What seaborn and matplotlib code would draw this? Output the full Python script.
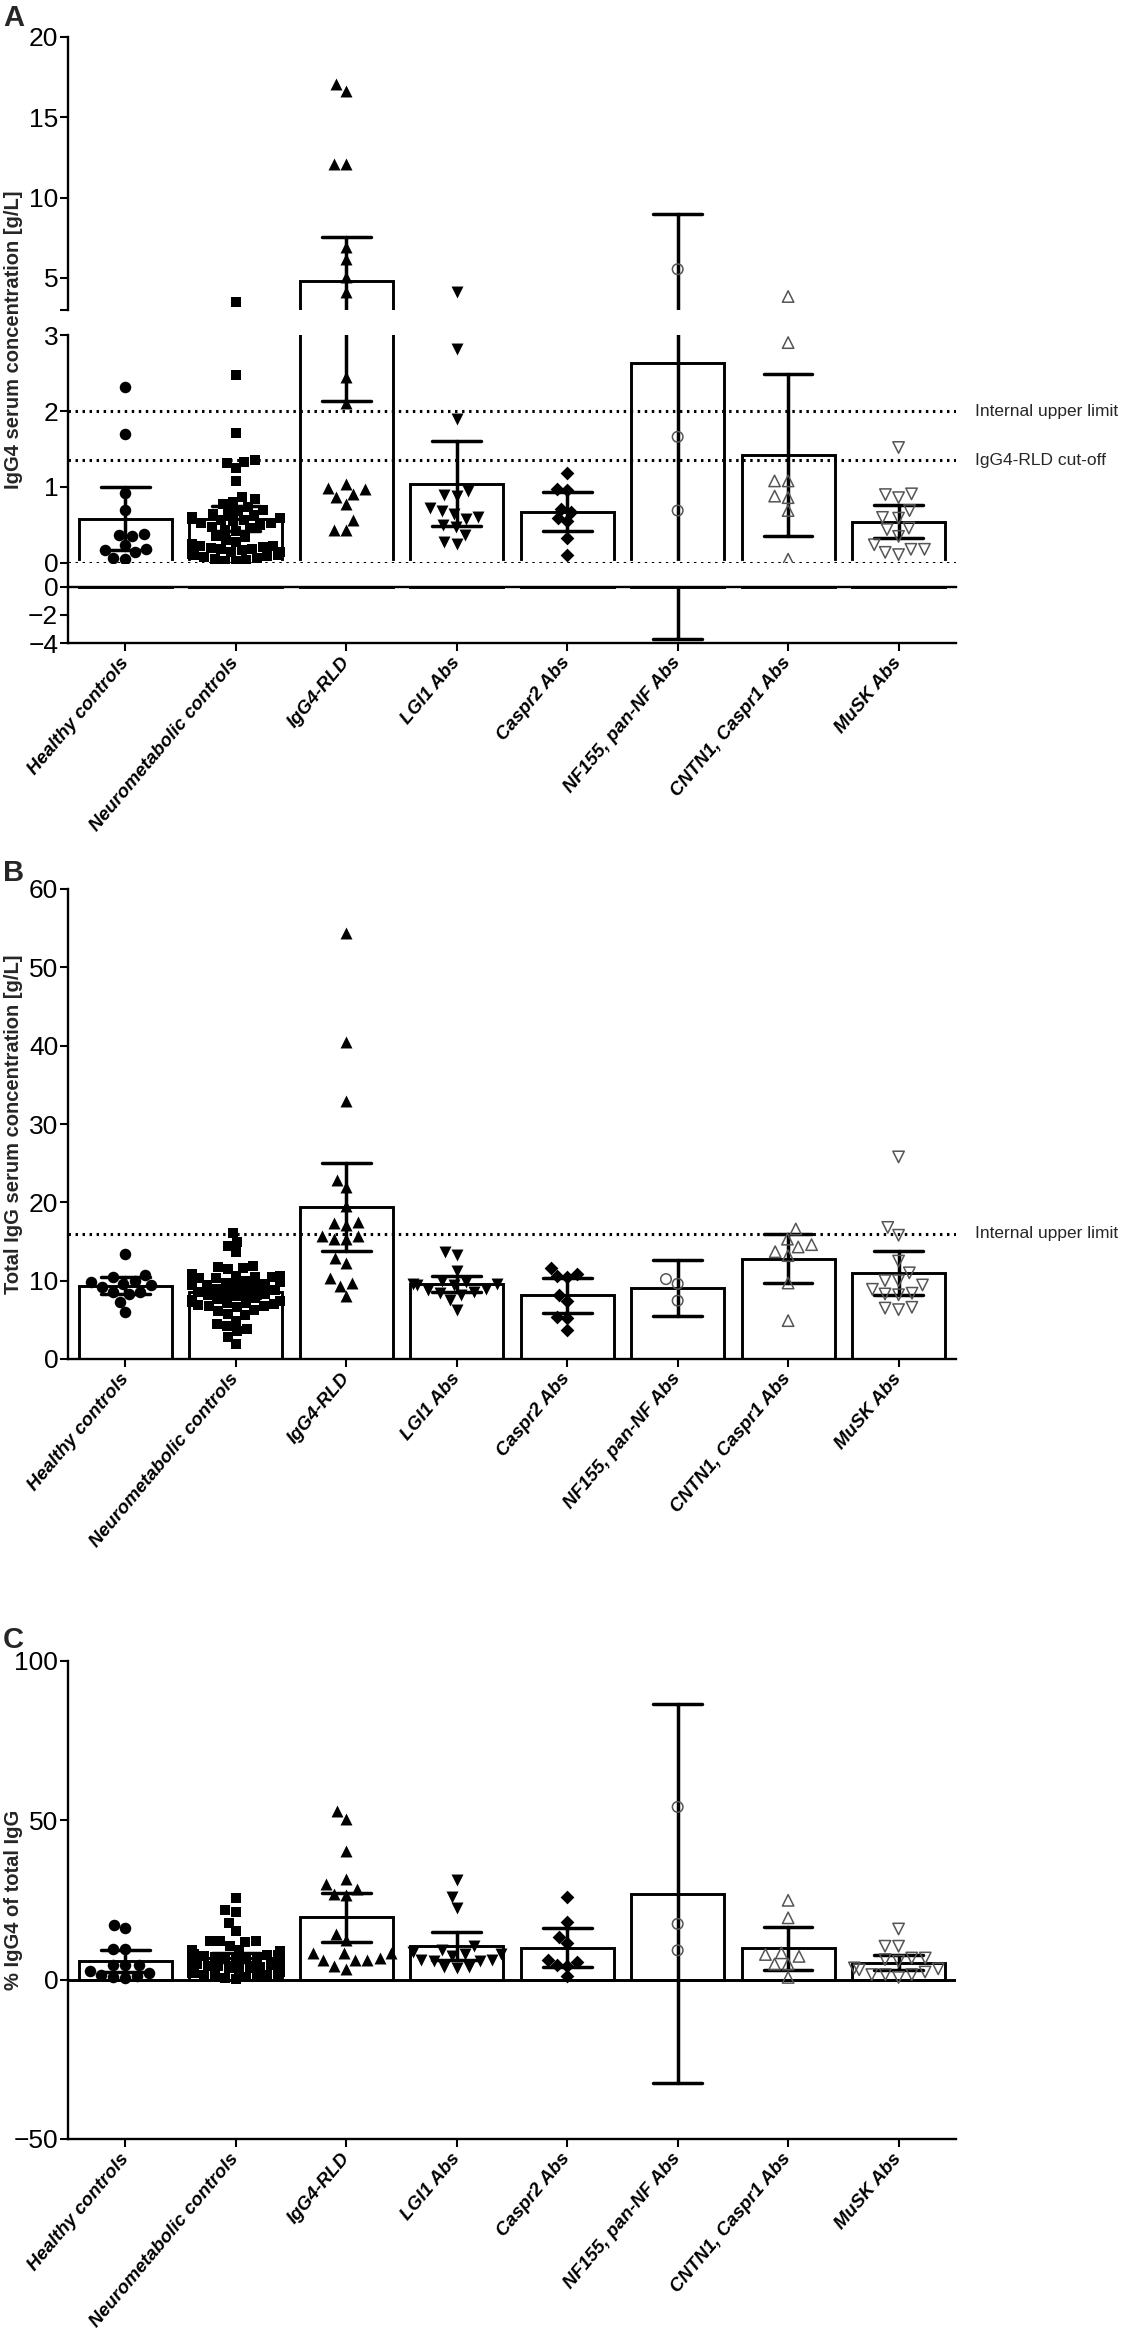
import numpy as np
import pandas as pd
import matplotlib
matplotlib.use("Agg")
import matplotlib.pyplot as plt
import matplotlib.transforms as mtrans
import seaborn as sns
import warnings
warnings.filterwarnings("ignore")

categories = ["Healthy controls", "Neurometabolic controls", "IgG4-RLD", "LGI1 Abs",
              "Caspr2 Abs", "NF155, pan-NF Abs", "CNTN1, Caspr1 Abs", "MuSK Abs"]

# ---------------- Panel A: IgG4 serum concentration [g/L]
a_healthy = [2.31, 1.70, 0.92, 0.70, 0.38, 0.37, 0.36, 0.24, 0.18, 0.17, 0.15, 0.06, 0.05]
a_neuro = [3.5, 2.47, 1.71, 1.36, 1.33, 1.32, 1.25, 1.08, 0.87, 0.84, 0.80, 0.78, 0.74, 0.70,
           0.68, 0.66, 0.65, 0.63, 0.60, 0.59, 0.58, 0.57, 0.56, 0.55, 0.53, 0.52, 0.50, 0.48,
           0.46, 0.44, 0.42, 0.36, 0.34, 0.30, 0.28, 0.25, 0.23, 0.22, 0.21, 0.20, 0.19, 0.18,
           0.17, 0.15, 0.14, 0.12, 0.11, 0.10, 0.09, 0.08, 0.06, 0.05, 0.04, 0.03, 0.02]
a_igg4rld = [17.06, 16.64, 12.08, 12.08, 6.95, 6.18, 5.08, 4.10, 2.45, 2.10, 1.04, 0.99, 0.98,
             0.91, 0.87, 0.78, 0.57, 0.44, 0.44]
a_lgi1 = [4.15, 2.82, 1.90, 0.95, 0.90, 0.88, 0.72, 0.68, 0.65, 0.60, 0.58, 0.50, 0.48, 0.37,
          0.27, 0.25]
a_caspr2 = [1.18, 0.97, 0.96, 0.71, 0.67, 0.59, 0.55, 0.33, 0.10]
a_nf155 = [5.54, 1.66, 0.69]
a_cntn1 = [3.84, 2.90, 1.08, 1.08, 0.88, 0.86, 0.69, 0.05]
a_musk = [1.52, 0.91, 0.90, 0.86, 0.69, 0.60, 0.59, 0.46, 0.44, 0.35, 0.24, 0.18, 0.18, 0.14, 0.11]

# ---------------- Panel B: Total IgG serum concentration [g/L]
b_healthy = [13.4, 10.7, 10.5, 10.0, 9.8, 9.6, 9.4, 9.2, 8.6, 8.5, 8.3, 7.3, 6.0]
b_neuro = [16.1, 14.9, 14.4, 13.6, 11.9, 11.7, 11.6, 11.5, 10.8, 10.6, 10.6, 10.5, 10.5, 10.4,
           10.3, 10.0, 9.9, 9.8, 9.7, 9.6, 9.5, 9.4, 9.3, 9.2, 9.0, 8.8, 8.6, 8.5, 8.4, 8.3,
           8.2, 8.0, 7.8, 7.6, 7.5, 7.4, 7.3, 7.2, 7.0, 6.9, 6.8, 6.8, 6.6, 6.2, 6.1, 5.8,
           5.6, 4.9, 4.5, 4.2, 3.8, 3.6, 2.8, 1.9, 7.1]
b_igg4rld = [54.4, 40.5, 32.9, 22.9, 21.9, 19.5, 17.5, 17.4, 17.1, 15.7, 15.7, 15.3, 15.3, 12.9,
             12.3, 10.3, 9.7, 9.3, 8.0]
b_lgi1 = [13.7, 13.3, 11.2, 10.0, 9.8, 9.6, 9.6, 9.5, 9.4, 9.0, 8.8, 8.5, 8.4, 8.2, 7.5, 6.2]
b_caspr2 = [11.6, 10.9, 10.6, 10.5, 8.2, 7.4, 5.4, 5.2, 3.7]
b_nf155 = [10.2, 9.6, 7.45]
b_cntn1 = [16.6, 15.3, 14.6, 14.3, 13.7, 13.2, 9.7, 4.9]
b_musk = [25.8, 16.8, 15.8, 12.5, 11.0, 10.0, 10.0, 9.45, 8.9, 8.4, 8.3, 8.2, 6.6, 6.5, 6.3]

# ---------------- Panel C: % IgG4 of total IgG
c_healthy = [17.3, 16.2, 9.6, 9.6, 4.6, 4.6, 4.6, 2.8, 2.1, 1.4, 1.0, 0.8, 0.5]
c_neuro = [25.7, 22.0, 21.3, 17.7, 15.2, 12.1, 12.1, 12.0, 11.8, 10.5, 9.4, 9.2, 9.0, 8.9, 8.6,
           8.3, 8.0, 7.8, 7.6, 7.4, 7.2, 7.0, 6.8, 6.6, 6.4, 6.2, 6.0, 5.8, 5.6, 5.4, 5.2,
           5.0, 4.8, 4.6, 4.4, 4.2, 4.0, 3.8, 3.6, 3.4, 3.2, 3.0, 2.8, 2.6, 2.4, 2.2, 2.0,
           1.8, 1.6, 1.4, 1.2, 1.0, 0.8, 0.5, 0.2]
c_igg4rld = [52.9, 50.5, 40.4, 31.7, 29.9, 28.6, 27.0, 26.7, 14.2, 12.3, 8.4, 8.4, 8.4, 6.8,
             6.3, 6.3, 6.3, 4.4, 3.5]
c_lgi1 = [31.4, 26.0, 22.5, 10.5, 9.4, 8.6, 8.2, 8.1, 7.3, 6.3, 6.1, 6.0, 5.9, 3.9, 3.9, 3.8]
c_caspr2 = [25.9, 18.1, 13.3, 11.4, 6.1, 5.5, 4.5, 4.4, 1.0]
c_nf155 = [54.2, 17.5, 9.2]
c_cntn1 = [24.9, 19.4, 8.4, 7.9, 7.3, 4.9, 4.9, 0.7]
c_musk = [15.9, 10.5, 10.5, 6.8, 6.8, 6.3, 5.8, 3.7, 3.4, 3.1, 2.4, 1.6, 1.6, 1.6, 0.7]

groups_a = [a_healthy, a_neuro, a_igg4rld, a_lgi1, a_caspr2, a_nf155, a_cntn1, a_musk]
groups_b = [b_healthy, b_neuro, b_igg4rld, b_lgi1, b_caspr2, b_nf155, b_cntn1, b_musk]
groups_c = [c_healthy, c_neuro, c_igg4rld, c_lgi1, c_caspr2, c_nf155, c_cntn1, c_musk]

markers = ["o", "s", "^", "v", "D", "o", "^", "v"]
open_marker = [False, False, False, False, False, True, True, True]
marker_sizes = [8.3, 7.3, 8.6, 8.6, 7.0, 7.6, 8.2, 8.2]

ref_a = [(2.0, "Internal upper limit"), (1.35, "IgG4-RLD cut-off")]
ref_b = [(16.0, "Internal upper limit")]


def frame(groups):
    return pd.DataFrame({
        "group": np.repeat(categories, [len(g) for g in groups]),
        "value": np.concatenate([np.asarray(g, float) for g in groups]),
    })


T975 = {1: 12.706, 2: 4.303, 3: 3.182, 4: 2.776, 5: 2.571, 6: 2.447, 7: 2.365, 8: 2.306,
        9: 2.262, 10: 2.228, 11: 2.201, 12: 2.179, 13: 2.160, 14: 2.145, 15: 2.131,
        16: 2.120, 17: 2.110, 18: 2.101, 19: 2.093, 20: 2.086}


def tci(v):
    v = np.asarray(v, float)
    n = len(v)
    df = n - 1
    t = T975.get(df, 1.96 + 2.4 / df)
    se = v.std(ddof=1) / np.sqrt(n)
    return v.mean() - t * se, v.mean() + t * se


sns.set_theme(style="ticks")
plt.rcParams["font.family"] = ["Liberation Sans", "DejaVu Sans"]
plt.rcParams["axes.linewidth"] = 1.7
plt.rcParams["xtick.major.width"] = 1.5
plt.rcParams["ytick.major.width"] = 1.5
plt.rcParams["xtick.major.size"] = 6
plt.rcParams["ytick.major.size"] = 6
plt.rcParams["xtick.color"] = "black"
plt.rcParams["ytick.color"] = "black"
plt.rcParams["axes.edgecolor"] = "black"

W, H = 1127, 2334
fig = plt.figure(figsize=(W / 100, H / 100), dpi=100)

X0, X1 = 68, 956


def make_ax(top_px, bot_px):
    return fig.add_axes([X0 / W, 1 - bot_px / H, (X1 - X0) / W, (bot_px - top_px) / H])


def bars(ax, df):
    sns.barplot(data=df, x="group", y="value", order=categories, errorbar=tci,
                color="white", saturation=1, edgecolor="black", linewidth=2.1,
                width=0.84, capsize=0.44, err_kws={"color": "black", "linewidth": 2.5},
                ax=ax)


def points(ax, groups, lo, hi):
    for cat, vals, m, op, s in zip(categories, groups, markers, open_marker, marker_sizes):
        v = [x for x in vals if lo <= x <= hi]
        if not v:
            continue
        n_before = len(ax.collections)
        sns.swarmplot(x=[cat] * len(v), y=v, order=categories, marker=m, color="black",
                      size=s, linewidth=0, ax=ax, zorder=4, warn_thresh=1)
        if op:
            for coll in ax.collections[n_before:]:
                coll.set_facecolor("none")
                coll.set_edgecolor("#555555")
                coll.set_linewidth(1.1)


def dotted(ax, y):
    ax.axhline(y, color="black", lw=2.2, ls=(0, (0.8, 1.5)), dash_capstyle="butt", zorder=3)


def style(ax, xlabels):
    ax.set_xlim(-0.52, 7.52)
    ax.set_xlabel("")
    ax.set_ylabel("")
    sns.despine(ax=ax)
    ax.tick_params(axis="y", labelsize=19, pad=1)
    if xlabels:
        ax.set_xticks(range(len(categories)))
        ax.set_xticklabels(categories, rotation=50, ha="right", va="center",
                           rotation_mode="anchor", fontsize=13.5, fontweight="bold",
                           fontstyle="italic")
        ax.tick_params(axis="x", pad=6)
    else:
        ax.spines["bottom"].set_visible(False)
        ax.tick_params(axis="x", bottom=False, labelbottom=False)


df_a = frame(groups_a)
df_b = frame(groups_b)
df_c = frame(groups_c)

# ---------- Panel A (three segments)
ax_top = make_ax(37, 310)
ax_mid = make_ax(335, 563)
ax_bot = make_ax(587, 643)

for ax in (ax_top, ax_mid, ax_bot):
    bars(ax, df_a)

points(ax_top, groups_a, 3.0, 20.0)
points(ax_mid, groups_a, 0.0, 3.0)

ax_top.set_ylim(3, 20)
ax_top.set_yticks([3, 5, 10, 15, 20])
ax_top.set_yticklabels(["", "5", "10", "15", "20"])
style(ax_top, False)

ax_mid.set_ylim(0, 3)
ax_mid.set_yticks([0, 1, 2, 3])
ax_mid.axhline(0, color="white", lw=3, zorder=2.5)
for y, lab in ref_a:
    dotted(ax_mid, y)
    ax_mid.text(1.021, y, lab, transform=mtrans.blended_transform_factory(ax_mid.transAxes, ax_mid.transData),
                va="center", ha="left", fontsize=12.5)
dotted(ax_mid, 0)
style(ax_mid, False)
ax_mid.spines["left"].set_bounds(-24 / 76, 3)

ax_bot.set_ylim(-4, 0)
ax_bot.set_yticks([-4, -2, 0])
style(ax_bot, True)
ax_bot.spines["top"].set_visible(True)

# ---------- Panel B
ax_b = make_ax(889, 1359)
bars(ax_b, df_b)
points(ax_b, groups_b, 0, 60)
ax_b.set_ylim(0, 60)
ax_b.set_yticks(range(0, 61, 10))
for y, lab in ref_b:
    dotted(ax_b, y)
    ax_b.text(1.021, y, lab, transform=mtrans.blended_transform_factory(ax_b.transAxes, ax_b.transData),
              va="center", ha="left", fontsize=12.5)
style(ax_b, True)

# ---------- Panel C
ax_c = make_ax(1661, 2139)
bars(ax_c, df_c)
points(ax_c, groups_c, -50, 100)
ax_c.set_ylim(-50, 100)
ax_c.set_yticks([-50, 0, 50, 100])
ax_c.axhline(0, color="black", lw=2.1, zorder=2)
style(ax_c, True)

# ---------- labels
fig.text(14 / W, 1 - 340 / H, "IgG4 serum concentration [g/L]", rotation=90, ha="center",
         va="center", fontsize=14.5, fontweight="bold")
fig.text(14 / W, 1 - 1124 / H, "Total IgG serum concentration [g/L]", rotation=90, ha="center",
         va="center", fontsize=14.5, fontweight="bold")
fig.text(14 / W, 1 - 1900 / H, "% IgG4 of total IgG", rotation=90, ha="center",
         va="center", fontsize=14.5, fontweight="bold")
for letter, ypx in (("A", 4), ("B", 859), ("C", 1626)):
    fig.text(3 / W, 1 - ypx / H, letter, ha="left", va="top", fontsize=21, fontweight="bold")

fig.savefig("out.png", dpi=100)
